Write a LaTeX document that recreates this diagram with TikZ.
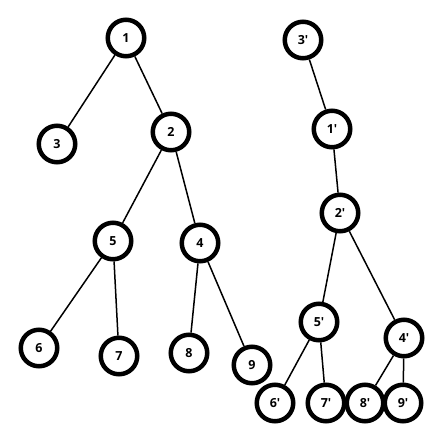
\documentclass[tikz,border=0pt]{standalone}
\usepackage{fontspec}
\setmainfont{Open Sans}
\newcommand{\pr}{\textquotesingle}

\begin{document}
\begin{tikzpicture}[x=1pt,y=-1pt]
		    \tikzset{
   			vertex/.style={draw, circle, line width=4.5pt, minimum size=36.5pt, inner sep=0pt, align=center, font=\fontsize{12.5}{14}\selectfont\bfseries},
    		arc/.style={line width=1.5pt}
		    }
            \useasboundingbox (0,0) rectangle (442,442);

            % first tree
   	        \draw node[vertex] (v1) at (126,38) {1};
            \draw node[vertex] (v3) at (57,144) {3};
            \draw node[vertex] (v2) at (171,132) {2};
            \draw node[vertex] (v5) at (113,241) {5};
            \draw node[vertex] (v4) at (200,243) {4};
            \draw node[vertex] (v6) at (39,348) {6};
            \draw node[vertex] (v7) at (119,356) {7};
            \draw node[vertex] (v8) at (189,353) {8};
            \draw node[vertex] (v9) at (252,365) {9};

            % second tree
            \draw node[vertex] (w3) at (303,40) {3\pr};
            \draw node[vertex] (w1) at (332,129) {1\pr};
            \draw node[vertex] (w2) at (340,213) {2\pr};
            \draw node[vertex] (w5) at (319,322) {5\pr};
            \draw node[vertex] (w4) at (404,338) {4\pr};
            \draw node[vertex] (w6) at (275,403) {6\pr};
            \draw node[vertex] (w7) at (326,403) {7\pr};
            \draw node[vertex] (w8) at (365,403) {8\pr};
            \draw node[vertex] (w9) at (403,403) {9\pr};

            \foreach \x/\y in {%
        	    v1/v3,v1/v2,v2/v5,v2/v4,v5/v6,v5/v7,v4/v8,v4/v9,%
        	    w3/w1,w1/w2,w2/w5,w2/w4,w5/w6,w5/w7,w4/w8,w4/w9%
    	    }{
   		 	\draw[arc] (\x) -- (\y);
   	        }
	    \end{tikzpicture}
\end{document}
